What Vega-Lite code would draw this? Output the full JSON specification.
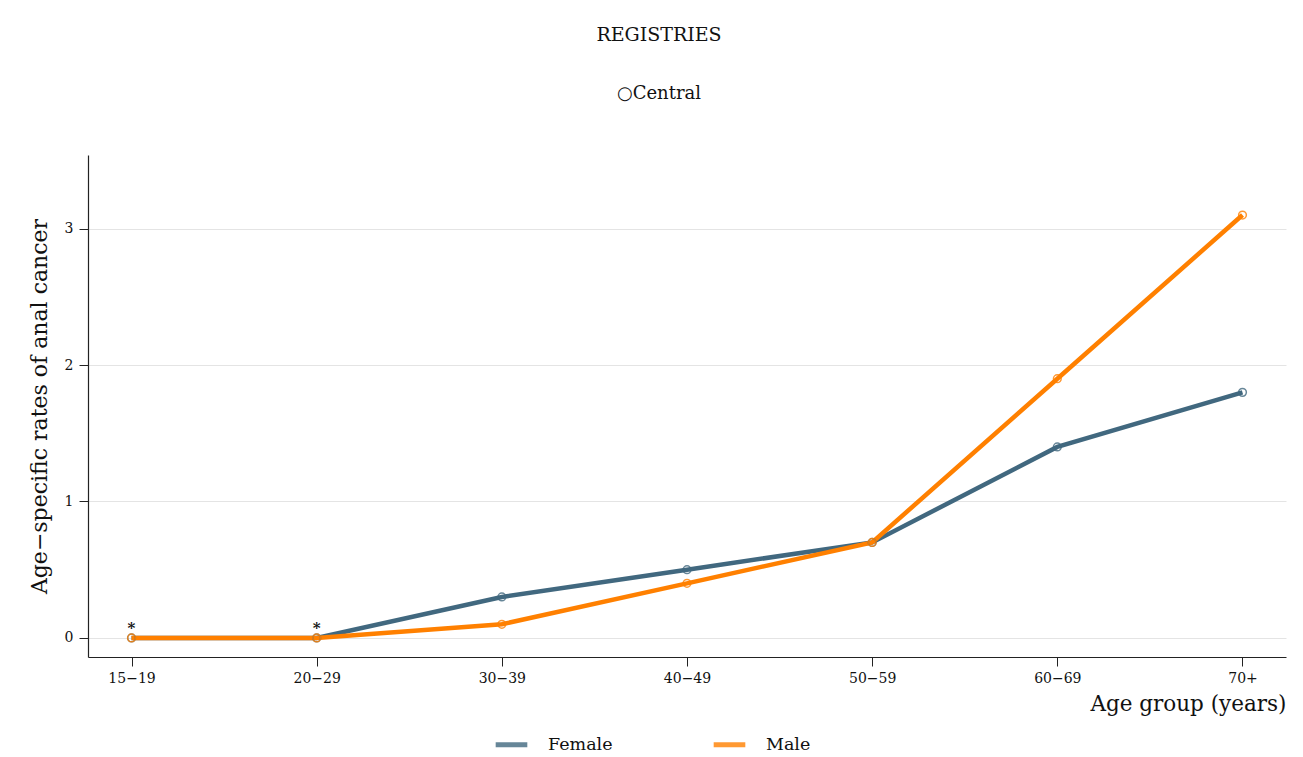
{
  "$schema": "https://vega.github.io/schema/vega-lite/v6.json",
  "autosize": {"type": "none"},
  "width": 1198,
  "height": 502,
  "padding": {"left": 88, "top": 155, "right": 17, "bottom": 100},
  "background": "white",
  "title": {
    "text": "REGISTRIES",
    "subtitle": "○Central",
    "anchor": "middle",
    "dx": -28,
    "offset": 52,
    "font": "DejaVu Serif",
    "fontSize": 19,
    "fontWeight": "normal",
    "color": "#111111",
    "subtitleFont": "DejaVu Serif",
    "subtitleFontSize": 18,
    "subtitleColor": "#111111",
    "subtitlePadding": 40
  },
  "data": {
    "values": [
      {"age": "15−19", "sex": "Female", "rate": 0, "flag": "*"},
      {"age": "20−29", "sex": "Female", "rate": 0, "flag": "*"},
      {"age": "30−39", "sex": "Female", "rate": 0.3, "flag": ""},
      {"age": "40−49", "sex": "Female", "rate": 0.5, "flag": ""},
      {"age": "50−59", "sex": "Female", "rate": 0.7, "flag": ""},
      {"age": "60−69", "sex": "Female", "rate": 1.4, "flag": ""},
      {"age": "70+", "sex": "Female", "rate": 1.8, "flag": ""},
      {"age": "15−19", "sex": "Male", "rate": 0, "flag": ""},
      {"age": "20−29", "sex": "Male", "rate": 0, "flag": ""},
      {"age": "30−39", "sex": "Male", "rate": 0.1, "flag": ""},
      {"age": "40−49", "sex": "Male", "rate": 0.4, "flag": ""},
      {"age": "50−59", "sex": "Male", "rate": 0.7, "flag": ""},
      {"age": "60−69", "sex": "Male", "rate": 1.9, "flag": ""},
      {"age": "70+", "sex": "Male", "rate": 3.1, "flag": ""}
    ]
  },
  "encoding": {
    "x": {
      "field": "age",
      "type": "ordinal",
      "sort": null,
      "scale": {"type": "point", "padding": 0.235},
      "axis": {
        "title": "Age group (years)",
        "labelAngle": 0,
        "labelFont": "DejaVu Serif",
        "labelFontSize": 14,
        "labelColor": "#111111",
        "labelPadding": 5,
        "tickSize": 9,
        "tickColor": "#222222",
        "domainColor": "#222222",
        "titleFont": "DejaVu Serif",
        "titleFontSize": 21.5,
        "titleFontWeight": "normal",
        "titleColor": "#111111",
        "titleAnchor": "end",
        "titlePadding": 8,
        "grid": false
      }
    },
    "y": {
      "field": "rate",
      "type": "quantitative",
      "scale": {"domain": [-0.14, 3.54], "nice": false, "zero": false},
      "axis": {
        "title": "Age−specific rates of anal cancer",
        "values": [0, 1, 2, 3],
        "labelFont": "DejaVu Serif",
        "labelFontSize": 14,
        "labelColor": "#111111",
        "labelPadding": 6,
        "tickSize": 9,
        "tickColor": "#222222",
        "domainColor": "#222222",
        "grid": true,
        "gridColor": "#e4e4e4",
        "gridWidth": 1,
        "titleFont": "DejaVu Serif",
        "titleFontSize": 22,
        "titleFontWeight": "normal",
        "titleColor": "#111111",
        "titlePadding": 13
      }
    },
    "color": {
      "field": "sex",
      "type": "nominal",
      "scale": {"domain": ["Female", "Male"], "range": ["#41687f", "#ff8000"]},
      "legend": {
        "title": null,
        "orient": "none",
        "direction": "horizontal",
        "legendX": 405,
        "legendY": 571,
        "symbolType": "stroke",
        "symbolStrokeWidth": 5,
        "symbolSize": 1000,
        "labelFont": "DejaVu Serif",
        "labelFontSize": 17.5,
        "labelColor": "#111111",
        "labelOffset": 18,
        "columnPadding": 90
      }
    }
  },
  "layer": [
    {"mark": {"type": "line", "strokeWidth": 4.5}},
    {"mark": {"type": "point", "shape": "circle", "filled": false, "size": 60, "strokeWidth": 1.5, "opacity": 0.8}},
    {
      "mark": {"type": "text", "dy": -10, "fontSize": 15, "fontWeight": "bold", "font": "DejaVu Serif", "color": "#111111"},
      "encoding": {"text": {"field": "flag"}, "color": {"value": "#111111"}}
    }
  ],
  "config": {
    "view": {"stroke": null},
    "axis": {"domainWidth": 1.2}
  }
}
